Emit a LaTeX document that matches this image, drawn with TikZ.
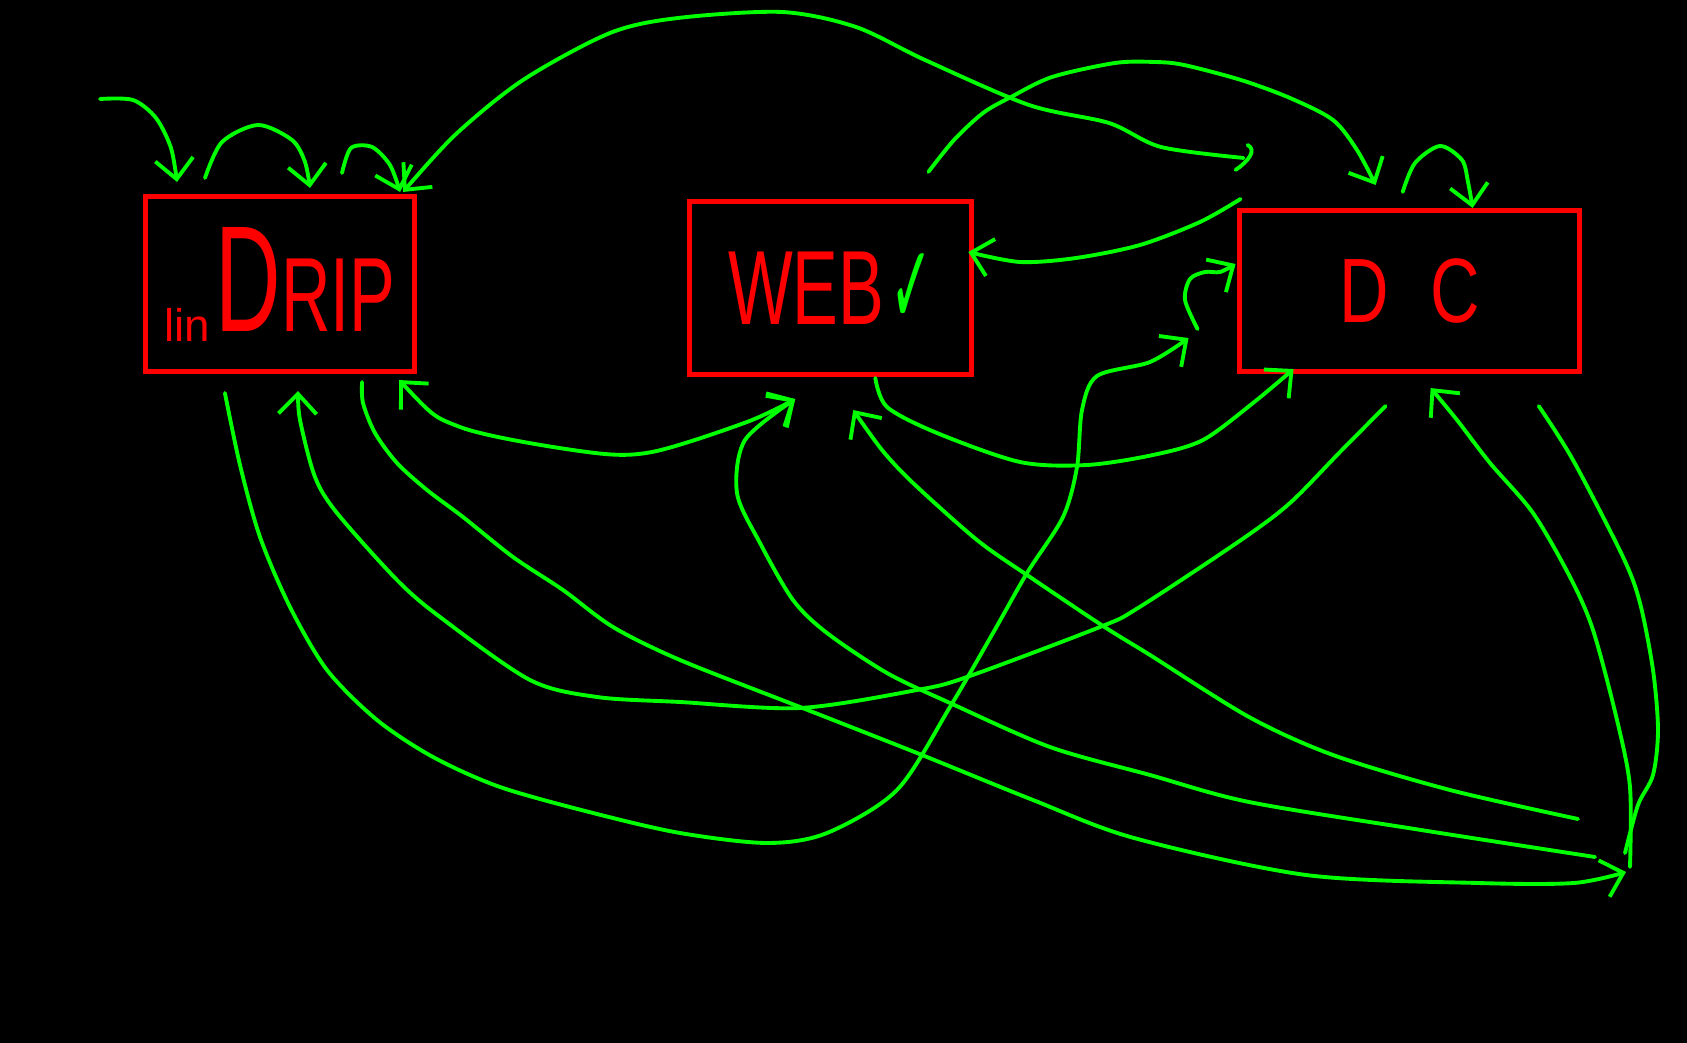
\documentclass[tikz,border=0pt]{standalone}
\usepackage{fontspec}
\setmainfont{Liberation Sans}
\newfontfamily\checkfont{DejaVu Sans}
\usepackage{graphicx}
\usepackage{xcolor}
\usepackage{tikz}
\usetikzlibrary{positioning,calc,arrows.meta}

\definecolor{penred}{RGB}{255,0,0}
\definecolor{pengreen}{RGB}{0,255,0}

\begin{document}
\begin{tikzpicture} [ x=0.01cm, y=-0.01cm,
    >={Straight Barb[length=2mm,width=3.8mm]},
    box/.style={rectangle, draw=penred, line width=1.4pt, outer sep=0pt,
    text=penred, align=center},
    scribble/.style={pengreen, line width=1.1pt, line cap=round, line join=round},
    con/.style={->, scribble}
    ]
    \fill[black] (0,0) rectangle (1687,1043);

    \node (drip) [box, minimum width=2.68cm, minimum height=1.74cm] at (280,284)
     {\raisebox{-1mm}{\fontsize{13}{13}\selectfont lin}\,%
      \scalebox{0.6}[1]{\fontsize{43}{43}\selectfont D}%
      \scalebox{0.65}[1]{\fontsize{30}{30}\selectfont RIP}};
    \node (web) [box, minimum width=2.82cm, minimum height=1.72cm,
     right=2.75cm of drip, yshift=-0.04cm]
     {\scalebox{0.65}[1]{\fontsize{30}{30}\selectfont WEB}\,%
      \scalebox{0.45}[1]{\checkfont\fontsize{32}{32}\selectfont\color{pengreen}✓}};
    \node (dc) [box, minimum width=3.40cm, minimum height=1.60cm,
     right=2.68cm of web, yshift=-0.03cm]
     {\scalebox{0.75}[1]{\fontsize{26}{26}\selectfont D\hspace{0.55cm}C}};

    \coordinate (entry) at (100,99);
    \coordinate (hook) at ($(dc.north west)+(4,-53)$);
    \coordinate (curl) at ($(dc.south west)+(-42,-42)$);
    \coordinate (hub) at (1628,866);

     \draw [con] plot[smooth] coordinates {(entry) (133,100) (156,118) (171,148)
       ($(drip.north)+(-103,-15)$)};
     \draw [con] plot[smooth] coordinates {($(drip.north)+(-75,-19)$) (222,142)
       (258,125) (292,140) (305,162) ($(drip.north)+(30,-9)$)};
     \draw [con] plot[smooth] coordinates {($(drip.north)+(62,-24)$) (351,148)
       (372,147) (390,165) ($(drip.north east)+(-14,-5)$)};
     \draw [con] plot[smooth] coordinates {(hook) (1161,147) (1109,123) (1029,105)
       (925,60) (856,27) (782,12) (678,18) (610,33) (523,80) (455,135)
       ($(drip.north east)+(-11,-5)$)};
     \draw [scribble] ($(hook)+(4,-13)$) .. controls +(10,5) and +(12,-8)
       .. ($(hook)+(-8,12)$);
     \draw [con] plot[smooth] coordinates {($(web.north east)+(-43,-30)$) (954,140)
       (983,113) (1011,97) (1052,77) (1115,63) (1155,62) (1184,65) (1241,80)
       (1290,98) (1333,120) (1357,150) ($(dc.north)+(-34,-26)$)};
     \draw [con] plot[smooth] coordinates {($(dc.north)+(-7,-19)$) (1415,163)
       (1440,146) (1462,160) (1468,182) ($(dc.north)+(63,-3)$)};
     \draw [con] plot[smooth] coordinates {($(dc.north west)+(1,-12)$) (1200,222)
       (1140,245) (1076,258) (1020,262) ($(web.east)+(-3,-36)$)};
     \draw [con] plot[smooth] coordinates {(curl) (1185,300) (1190,279) (1205,272)
       (1220,272) ($(dc.west)+(-4,-27)$)};
     \draw [con] plot[smooth] coordinates {($(drip.south west)+(79,22)$) (240,465)
       (260,537) (290,607) (327,670) (377,720) (433,757) (500,787) (593,813)
       (680,833) (767,843) (827,833) (897,790) (950,707) (993,633) (1027,573)
       (1063,517) (1077,467) (1082,410) (1097,376) (1150,362)
       ($(dc.south west)+(-51,-33)$)};
     \draw [con,<->] plot[smooth] coordinates {($(drip.south east)+(-15,9)$)
       (460,427) (587,452) (652,452) (747,422) ($(web.south west)+(106,25)$)};
     \draw [con] plot[smooth] coordinates {($(hub)+(-33,-9)$) (1421,830) (1249,802)
       (1150,775) (1050,747) (950,703) (887,673) (827,633) (793,600) (760,543)
       (737,493) (745,440) ($(web.south west)+(106,25)$)};
     \draw [con] plot[smooth] coordinates {($(hub)+(-50,-47)$) (1450,790) (1333,755)
       (1249,717) (1150,655) (1103,626) (1027,575) (977,540) (913,483) (882,450)
       ($(web.south west)+(164,36)$)};
     \draw [con] plot[smooth] coordinates {($(drip.south east)+(-52,11)$) (363,403)
       (375,433) (397,463) (427,490) (463,517) (513,557) (563,590) (613,627)
       (680,660) (800,707) (917,753) (1033,800) (1134,838) (1306,875) (1478,883)
       (1574,883) ($(hub)+(-2,6)$)};
     \draw [con] plot[smooth] coordinates {($(dc.south west)+(146,35)$) (1340,452)
       (1290,503) (1241,540) (1138,608) (1100,627) (967,677) (917,690) (800,708)
       (680,702) (597,697) (530,680) (440,617) (397,580) (337,513) (315,477)
       (300,420) ($(drip.south)+(18,20)$)};
     \draw [con] plot[smooth] coordinates {($(web.south)+(45,4)$) (887,407) (937,433)
       (1020,462) (1087,465) (1153,455) (1203,440) (1253,403)
       ($(dc.south west)+(54,-2)$)};
     \draw [con] plot[smooth] coordinates {($(hub)+(2,1)$) (1630,787) (1617,720)
       (1593,630) (1570,577) (1533,513) (1490,463) (1457,420)
       ($(dc.south)+(21,17)$)};
     \draw [scribble] plot[smooth] coordinates {($(dc.south east)+(-41,35)$)
       (1573,460) (1623,557) (1640,603) (1653,670) (1658,730) (1653,775)
       (1638,805) ($(hub)+(-3,-13)$)};
  \end{tikzpicture}
\end{document}
